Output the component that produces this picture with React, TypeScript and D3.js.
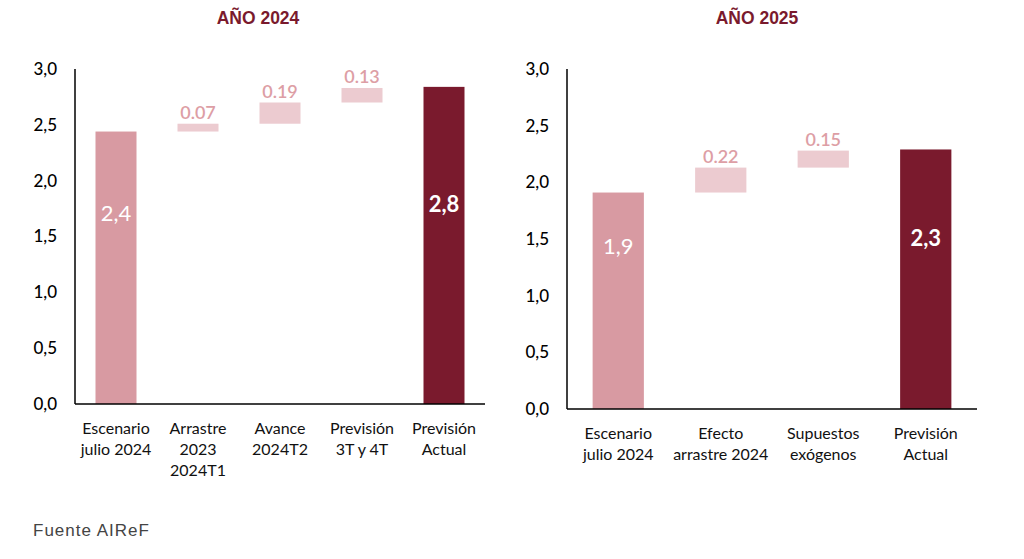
import React from 'react';
import * as d3 from 'd3';

const categories2024 = [
  ['Escenario', 'julio 2024'],
  ['Arrastre', '2023', '2024T1'],
  ['Avance', '2024T2'],
  ['Previsión', '3T y 4T'],
  ['Previsión', 'Actual'],
];
const start2024 = 2.44;
const deltas2024 = [0.07, 0.19, 0.13];
const final2024 = 2.84;

const categories2025 = [
  ['Escenario', 'julio 2024'],
  ['Efecto', 'arrastre 2024'],
  ['Supuestos', 'exógenos'],
  ['Previsión', 'Actual'],
];
const start2025 = 1.91;
const deltas2025 = [0.22, 0.15];
const final2025 = 2.29;

const yTicks = [0, 0.5, 1, 1.5, 2, 2.5, 3];

const C_START = '#d89aa2';
const C_DELTA = '#eccbd0';
const C_DELTA_TXT = '#dd9ea5';
const C_FINAL = '#7a1a2d';
const FONT = 'Lato, "Open Sans", sans-serif';

interface PanelProps {
  title: string;
  titleX: number;
  cats: string[][];
  start: number;
  deltas: number[];
  final: number;
  x0: number;
  x1: number;
  yBase: number;
  yTop: number;
}

const fmt = (v: number) => d3.format('.1f')(v).replace('.', ',');

const Panel: React.FC<PanelProps> = ({ title, titleX, cats, start, deltas, final, x0, x1, yBase, yTop }) => {
  const keys = cats.map((_, i) => String(i));
  const x = d3.scaleBand().domain(keys).range([x0, x1]).paddingInner(0.5).paddingOuter(0.25);
  const y = d3.scaleLinear().domain([0, 3]).range([yBase, yTop]);
  const bw = x.bandwidth();

  // cumulative steps for the floating boxes
  let acc = start;
  const steps = deltas.map((d) => {
    const s = { lo: acc, hi: acc + d, d };
    acc += d;
    return s;
  });
  const last = String(cats.length - 1);

  return (
    <g>
      <text x={titleX} y={18} dy="0.35em" textAnchor="middle" fontFamily='"Liberation Sans", Arial, sans-serif'
        fontWeight="bold" fontSize={17.5} fill={C_FINAL}>{title}</text>

      {/* start bar */}
      <rect x={x('0')} y={y(start)} width={bw} height={y(0) - y(start)} fill={C_START} />
      <text x={(x('0') as number) + bw / 2} y={(y(start) + y(0)) / 2 - 54} dy="0.35em" textAnchor="middle"
        fontFamily={FONT} fontSize={22} fill="#fff">{fmt(start)}</text>

      {steps.map((s, i) => {
        const k = String(i + 1);
        const cx = (x(k) as number) + bw / 2;
        return (
          <g key={k}>
            <rect x={x(k)} y={y(s.hi)} width={bw} height={y(s.lo) - y(s.hi)} fill={C_DELTA} />
            <text x={cx} y={y(s.hi) - 11} dy="0.35em" textAnchor="middle" fontFamily={FONT} fontSize={18}
              fontWeight={600} fill={C_DELTA_TXT}>{s.d.toFixed(2)}</text>
          </g>
        );
      })}

      {/* final bar */}
      <rect x={x(last)} y={y(final)} width={bw} height={y(0) - y(final)} fill={C_FINAL} />
      <text x={(x(last) as number) + bw / 2} y={(y(final) + y(0)) / 2 - 41} dy="0.35em" textAnchor="middle"
        fontFamily={FONT} fontSize={22} fontWeight="bold" fill="#fff">{fmt(final)}</text>

      {/* axes */}
      <line x1={x0} x2={x0} y1={yTop} y2={yBase} stroke="#000" strokeWidth={1.5} />
      <line x1={x0} x2={x1} y1={yBase} y2={yBase} stroke="#000" strokeWidth={1.5} />
      {yTicks.map((t) => (
        <text key={t} x={x0 - 18} y={y(t)} dy="0.35em" textAnchor="end" fontFamily={FONT} fontSize={17}
          fontWeight={500} fill="#000">{fmt(t)}</text>
      ))}
      {cats.map((lines, i) => (
        <text key={i} x={(x(String(i)) as number) + bw / 2} y={yBase + 24} textAnchor="middle"
          fontFamily={FONT} fontSize={16} fill="#111">
          {lines.map((l, j) => (
            <tspan key={j} x={(x(String(i)) as number) + bw / 2} y={yBase + 24 + j * 21} dy="0.35em">{l}</tspan>
          ))}
        </text>
      ))}
    </g>
  );
};

export default function App() {
  return (
    <svg width={1024} height={559} style={{ position: 'absolute', left: 0, top: 0, background: '#fff' }}>
      <rect width={1024} height={559} fill="#fff" />
      <Panel title="AÑO 2024" titleX={258} cats={categories2024} start={start2024} deltas={deltas2024}
        final={final2024} x0={75} x1={485} yBase={404} yTop={69} />
      <Panel title="AÑO 2025" titleX={757} cats={categories2025} start={start2025} deltas={deltas2025}
        final={final2025} x0={567} x1={977} yBase={409} yTop={69} />
      <text x={33} y={530} dy="0.35em" fontFamily='"Liberation Sans", Arial, sans-serif' fontSize={17}
        letterSpacing={1} fill="#444">Fuente AIReF</text>
    </svg>
  );
}
